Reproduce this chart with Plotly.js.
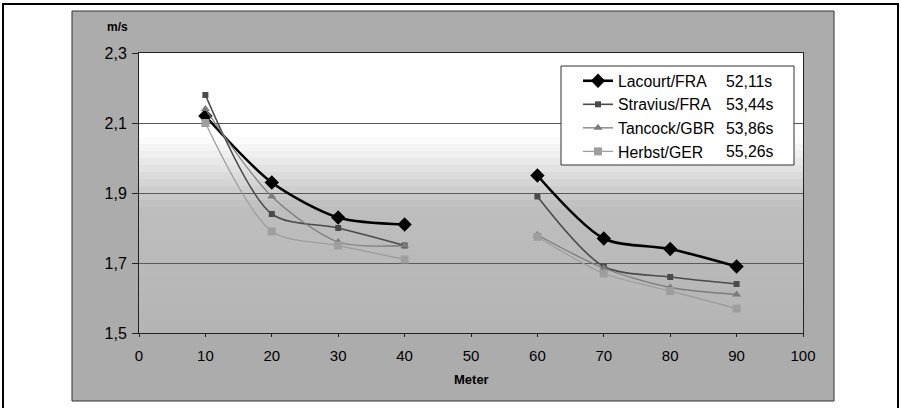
<!DOCTYPE html>
<html>
<head>
<meta charset="utf-8">
<script src="https://cdn.plot.ly/plotly-3.0.1.min.js"></script>
<style>html,body{margin:0;padding:0;background:#fff;}#chart{width:901px;height:408px;}</style>
</head>
<body>
<div id="chart"></div>
<script>
// ---- data ----
var meters = [10, 20, 30, 40, 50, 60, 70, 80, 90];
var swimmers = ['Lacourt/FRA', 'Stravius/FRA', 'Tancock/GBR', 'Herbst/GER'];
var times = ['52,11s', '53,44s', '53,86s', '55,26s'];
var lacourt  = [2.12, 1.93, 1.83, 1.81, null, 1.95, 1.77, 1.74, 1.69];
var stravius = [2.18, 1.84, 1.80, 1.75, null, 1.89, 1.69, 1.66, 1.64];
var tancock  = [2.14, 1.89, 1.76, 1.75, null, 1.78, 1.685, 1.63, 1.61];
var herbst   = [2.10, 1.79, 1.75, 1.71, null, 1.775, 1.67, 1.62, 1.57];
var yTicks = [1.5, 1.7, 1.9, 2.1, 2.3];
var xTicks = [0, 10, 20, 30, 40, 50, 60, 70, 80, 90, 100];

// ---- layout geometry (pixels) ----
var W = 901, H = 408, L = 139, R = 803, T = 53, B = 333;
function px(x) { return (x - L) / (R - L); }
function py(y) { return (B - y) / (B - T); }

var font = 'Liberation Sans, Arial, sans-serif';
var styles = [
  {color: '#000000', width: 2.6, symbol: 'diamond', size: 11},
  {color: '#4a4a4a', width: 1.6, symbol: 'square', size: 6},
  {color: '#7c7c7c', width: 1.3, symbol: 'triangle-up', size: 8},
  {color: '#9e9e9e', width: 1.3, symbol: 'square', size: 8}
];
var series = [lacourt, stravius, tancock, herbst];

var traces = series.map(function (vals, i) {
  var s = styles[i];
  return {
    type: 'scatter', mode: 'lines+markers', name: swimmers[i],
    x: meters, y: vals, connectgaps: false,
    line: {color: s.color, width: s.width, shape: 'spline', smoothing: 0.8},
    marker: {color: s.color, symbol: s.symbol, size: s.size, line: {width: 0}}
  };
});

var shapes = [];
// outer frame
shapes.push({type: 'rect', xref: 'paper', yref: 'paper', layer: 'below',
  x0: px(3), x1: px(898), y0: py(412), y1: py(4),
  fillcolor: '#ffffff', line: {color: '#000', width: 2}});
// gray chart area
shapes.push({type: 'rect', xref: 'paper', yref: 'paper', layer: 'below',
  x0: px(72), x1: px(834), y0: py(401), y1: py(11),
  fillcolor: '#acacac', line: {color: '#333', width: 1}});
// plot area gradient (white at top -> gray at bottom)
var nb = 40;
for (var k = 0; k < nb; k++) {
  var t0 = k / nb, t1 = (k + 1) / nb;
  var v = 1.5 + 0.8 * (t0 + t1) / 2;
  var c;
  if (v > 2.06) c = 255;
  else if (v > 1.86) c = 190 + (255 - 190) * (v - 1.86) / 0.2;
  else c = 180 + 10 * (v - 1.5) / 0.36;
  c = Math.round(c);
  shapes.push({type: 'rect', xref: 'paper', yref: 'paper', layer: 'below',
    x0: 0, x1: 1, y0: t0, y1: t1 + 0.002,
    fillcolor: 'rgb(' + c + ',' + c + ',' + c + ')', line: {width: 0}});
}
// legend box
shapes.push({type: 'rect', xref: 'paper', yref: 'paper', layer: 'above',
  x0: px(561), x1: px(794), y0: py(165), y1: py(66),
  fillcolor: '#ffffff', line: {color: '#333', width: 1}});

var annotations = [
  {text: '<b>m/s</b>', xref: 'paper', yref: 'paper', x: px(117), y: py(27),
   xanchor: 'center', yanchor: 'middle',
   showarrow: false, font: {family: font, size: 12, color: '#000'}},
  {text: '<b>Meter</b>', xref: 'paper', yref: 'paper', x: px(471), y: py(379),
   xanchor: 'center', yanchor: 'middle',
   showarrow: false, font: {family: font, size: 13, color: '#000'}}
];
times.forEach(function (tm, i) {
  annotations.push({text: tm, xref: 'paper', yref: 'paper', x: px(724), y: py(81 + 23.5 * i),
    xanchor: 'left', yanchor: 'middle', showarrow: false,
    font: {family: font, size: 15.8, color: '#000'}});
});

var layout = {
  width: W, height: H,
  margin: {l: L, r: W - R, t: T, b: H - B, pad: 0},
  paper_bgcolor: '#ffffff', plot_bgcolor: 'rgba(0,0,0,0)',
  separators: ',.',
  showlegend: true,
  legend: {x: px(578), y: py(64), xanchor: 'left', yanchor: 'top',
    bgcolor: 'rgba(0,0,0,0)', borderwidth: 0,
    font: {family: font, size: 15.8, color: '#000'}},
  xaxis: {range: [0, 100], tickvals: xTicks, ticktext: xTicks.map(String),
    showgrid: false, zeroline: false, showline: true, mirror: true,
    linecolor: '#222', linewidth: 1, ticks: 'outside', ticklen: 3, tickcolor: '#222',
    ticklabelstandoff: 6,
    tickfont: {family: font, size: 15, color: '#000'}},
  yaxis: {range: [1.5, 2.3], tickvals: yTicks, tickformat: '.1f',
    showgrid: true, gridcolor: '#5a5a5a', gridwidth: 1, zeroline: false,
    showline: true, mirror: true, linecolor: '#222', linewidth: 1,
    ticks: 'outside', ticklen: 6, tickcolor: '#222', ticklabelstandoff: 2,
    tickfont: {family: font, size: 16, color: '#000'}},
  shapes: shapes,
  annotations: annotations
};

Plotly.newPlot('chart', traces, layout, {displayModeBar: false, staticPlot: true});
</script>
</body>
</html>
